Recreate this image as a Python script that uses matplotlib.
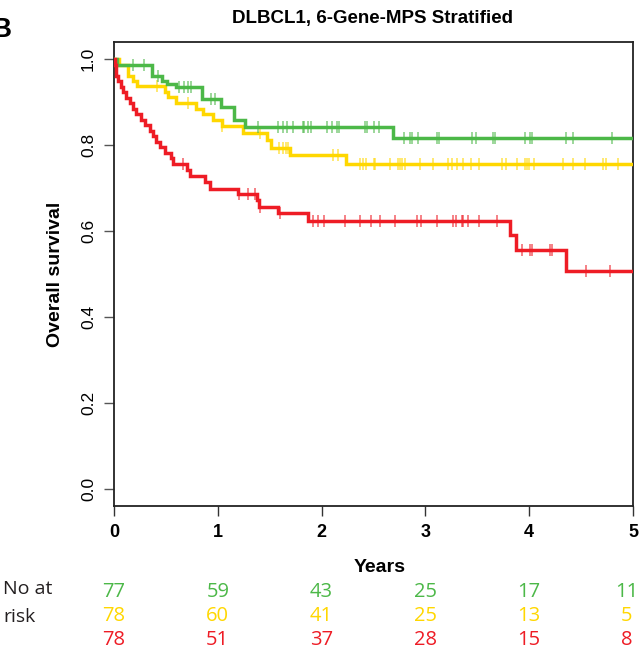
import numpy as np
import matplotlib
matplotlib.use("Agg")
import matplotlib.pyplot as plt

# ---------------- data ----------------
title = "DLBCL1, 6-Gene-MPS Stratified"
x_ticks = [0, 1, 2, 3, 4, 5]
y_ticks = [0.0, 0.2, 0.4, 0.6, 0.8, 1.0]

green_times = [0, 0.03, 0.37, 0.46, 0.51, 0.60, 0.85, 1.03, 1.16, 1.26, 2.685]
green_surv = [1.0, 0.987, 0.962, 0.950, 0.943, 0.936, 0.908, 0.889, 0.858, 0.843, 0.817]
green_cens = [0.18, 0.29, 0.42, 0.63, 0.67, 0.71, 0.74, 0.93, 0.97, 1.39, 1.58, 1.63,
              1.67, 1.72, 1.82, 1.83, 1.87, 1.90, 2.05, 2.10, 2.15, 2.17, 2.42, 2.44,
              2.50, 2.55, 2.79, 2.85, 2.87, 2.93, 3.11, 3.13, 3.45, 3.49, 3.65, 3.67,
              3.96, 4.01, 4.03, 4.35, 4.42, 4.80]

yellow_times = [0, 0.05, 0.138, 0.186, 0.218, 0.49, 0.52, 0.60, 0.79, 0.857, 0.95,
                1.04, 1.246, 1.47, 1.51, 1.70, 2.235]
yellow_surv = [1.0, 0.987, 0.962, 0.950, 0.937, 0.924, 0.911, 0.898, 0.885, 0.872,
               0.858, 0.845, 0.829, 0.812, 0.794, 0.777, 0.757]
yellow_cens = [0.41, 0.71, 1.04, 1.41, 1.59, 1.63, 1.66, 1.68, 2.11, 2.16, 2.37, 2.40,
               2.43, 2.50, 2.51, 2.66, 2.74, 2.76, 2.77, 2.80, 2.95, 3.07, 3.22, 3.26,
               3.30, 3.36, 3.44, 3.52, 3.74, 3.78, 3.88, 3.96, 3.98, 4.00, 4.05, 4.33,
               4.42, 4.54, 4.71, 4.74, 4.86]

red_times = [0, 0.01, 0.015, 0.02, 0.039, 0.064, 0.087, 0.119, 0.151, 0.183, 0.215,
             0.263, 0.295, 0.344, 0.376, 0.408, 0.44, 0.49, 0.55, 0.57, 0.70, 0.73,
             0.877, 0.925, 1.198, 1.375, 1.40, 1.58, 1.87, 3.815, 3.87, 4.355]
red_surv = [1.0, 0.987, 0.974, 0.962, 0.949, 0.936, 0.923, 0.910, 0.897, 0.885, 0.872,
            0.859, 0.846, 0.833, 0.821, 0.808, 0.795, 0.782, 0.769, 0.756, 0.742, 0.728,
            0.715, 0.699, 0.686, 0.672, 0.657, 0.643, 0.624, 0.591, 0.557, 0.508]
red_cens = [0.66, 1.20, 1.29, 1.36, 1.41, 1.60, 1.92, 1.97, 2.02, 2.23, 2.37, 2.48,
            2.56, 2.71, 2.92, 2.96, 3.11, 3.27, 3.29, 3.35, 3.36, 3.41, 3.52, 3.69,
            3.93, 4.01, 4.03, 4.20, 4.22, 4.55, 4.78]

risk_green = [77, 59, 43, 25, 17, 11]
risk_yellow = [78, 60, 41, 25, 13, 5]
risk_red = [78, 51, 37, 28, 15, 8]

GREEN = "#4CB848"
YELLOW = "#FFD700"
RED = "#EE1C25"

# ---------------- plot ----------------
W, H = 642, 656
fig = plt.figure(figsize=(W / 100, H / 100), dpi=100)
ax = fig.add_axes([114 / W, 1 - 506 / H, (633 - 114) / W, (506 - 42) / H])

def draw(times, surv, cens, color):
    t = list(times) + [5.0]
    s = list(surv) + [surv[-1]]
    ax.step(t, s, where="post", color=color, lw=2.5, solid_joinstyle="miter", zorder=3)
    idx = np.searchsorted(np.array(times), np.array(cens), side="right") - 1
    cs = np.array(surv)[idx]
    ax.plot(cens, cs, ls="none", marker="|", ms=9, mew=1.1, color=color, alpha=0.7, zorder=3)

draw(yellow_times, yellow_surv, yellow_cens, YELLOW)
draw(green_times, green_surv, green_cens, GREEN)
draw(red_times, red_surv, red_cens, RED)

ax.set_xlim(0, 5)
ax.set_ylim(-0.04, 1.04)
ax.set_xticks(x_ticks)
ax.set_xticklabels([str(v) for v in x_ticks], fontsize=13, fontweight="bold",
                   family="Liberation Sans")
ax.set_yticks(y_ticks)
ax.set_yticklabels([f"{v:.1f}" for v in y_ticks], fontsize=12.5, rotation=90,
                   va="center", family="Liberation Sans")
ax.tick_params(axis="x", length=7, width=1, pad=6, color="#333333")
ax.tick_params(axis="y", length=7, width=1, pad=6, color="#555555")
for sp in ax.spines.values():
    sp.set_linewidth(1.3)
    sp.set_color("#222222")

ax.set_ylabel("Overall survival", fontsize=14, fontweight="bold",
              family="Liberation Sans", labelpad=12)

fig.text(373 / W, 1 - 18 / H, title, ha="center", va="center", fontsize=13.5,
         fontweight="bold", family="Liberation Sans")
fig.text(11 / W, 1 - 30 / H, "B", ha="right", va="center", fontsize=20,
         fontweight="bold", family="Liberation Sans")
fig.text(380 / W, 1 - 568 / H, "Years", ha="center", va="center", fontsize=14,
         fontweight="bold", family="Liberation Sans")

# at-risk table
fig.text(3 / W, 1 - 589 / H, "No at", ha="left", va="center", fontsize=14,
         family="Open Sans", color="#231F20")
fig.text(3 / W, 1 - 617 / H, "risk", ha="left", va="center", fontsize=14,
         family="Open Sans", color="#231F20")
rows = [(risk_green, GREEN, 592), (risk_yellow, YELLOW, 616), (risk_red, RED, 640)]
for vals, col, ypx in rows:
    for xv, v in zip(x_ticks, vals):
        xfig = (114 + xv * (633 - 114) / 5) / W
        if xv == 5:
            xfig = 627 / W
        fig.text(xfig, 1 - ypx / H, str(v), ha="center", va="center", fontsize=14.5,
                 family="Open Sans", color=col)

fig.savefig("out.png", dpi=100)
